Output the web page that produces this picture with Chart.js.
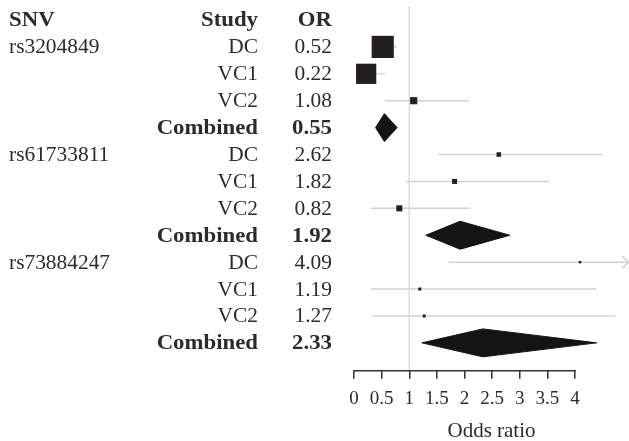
<!DOCTYPE html>
<html>
<head>
<meta charset="utf-8">
<script src="https://cdn.jsdelivr.net/npm/chart.js@4/dist/chart.umd.min.js"></script>
<style>
  html, body { margin: 0; padding: 0; background: #fff; }
  #wrap { width: 629px; height: 441px; position: relative; }
</style>
</head>
<body>
<div id="wrap"><canvas id="chart"></canvas></div>
<script>
// forest plot data
var snvs = ["rs3204849", "rs61733811", "rs73884247"];
var studies = ["DC", "VC1", "VC2"];
var studyOR = [0.52, 0.22, 1.08, 2.62, 1.82, 0.82, 4.09, 1.19, 1.27];
var studyLower = [0.35, 0.08, 0.56, 1.53, 0.94, 0.31, 1.71, 0.31, 0.33];
var studyUpper = [0.78, 0.56, 2.08, 4.50, 3.53, 2.11, 9.80, 4.39, 4.73];
var studyWeight = [48, 40, 5, 2, 2.5, 3.6, 0.6, 0.9, 0.9];
var combinedOR = [0.55, 1.92, 2.33];
var combinedLower = [0.39, 1.30, 1.23];
var combinedUpper = [0.78, 2.82, 4.39];
var tickValues = [0, 0.5, 1, 1.5, 2, 2.5, 3, 3.5, 4];

var FONT = "'Liberation Serif', 'Times New Roman', serif";
var TEXT = "#2b2b2b";
var X_MAX = 4.976;
var Y_MIN = -1.52, Y_MAX = 12.04;

// each SNV block has 3 study rows + 1 combined row
function studyRow(i) {
  return Math.floor(i / 3) * 4 + (i % 3);
}
function combinedRow(g) {
  return g * 4 + 3;
}

var datasets = [];

// squares
datasets.push({
  type: "scatter",
  data: studyOR.map(function(v, i) {
    return { x: v, y: studyRow(i) };
  }),
  pointStyle: "rect",
  pointRadius: studyWeight.map(function(w) {
    return Math.sqrt(w) * 3.2 / 1.414;
  }),
  pointHoverRadius: 0,
  backgroundColor: "#231f20",
  borderWidth: 0,
  clip: false
});

// diamonds
combinedOR.forEach(function(v, g) {
  var r = combinedRow(g);
  datasets.push({
    type: "line",
    data: [
      { x: combinedLower[g], y: r },
      { x: v, y: r - 0.52 },
      { x: combinedUpper[g], y: r },
      { x: v, y: r + 0.52 },
      { x: combinedLower[g], y: r }
    ],
    borderColor: "#141414",
    borderWidth: 1,
    backgroundColor: "#141414",
    fill: "shape",
    pointRadius: 0,
    tension: 0,
    clip: false
  });
});

// confidence interval lines
studyOR.forEach(function(v, i) {
  var r = studyRow(i);
  var hi = Math.min(studyUpper[i], X_MAX);
  datasets.push({
    type: "line",
    data: [{ x: studyLower[i], y: r }, { x: hi, y: r }],
    borderColor: "#d2d2d2",
    borderWidth: 1.5,
    pointRadius: 0,
    clip: false
  });
  if (studyUpper[i] > X_MAX) {
    datasets.push({
      type: "line",
      data: [
        { x: X_MAX - 0.12, y: r - 0.22 },
        { x: X_MAX - 0.01, y: r },
        { x: X_MAX - 0.12, y: r + 0.22 }
      ],
      borderColor: "#c8c8c8",
      borderWidth: 1.2,
      pointRadius: 0,
      clip: false
    });
  }
});

// reference line at OR = 1
datasets.push({
  type: "line",
  data: [{ x: 1, y: Y_MIN }, { x: 1, y: Y_MAX }],
  borderColor: "#dedede",
  borderWidth: 1.5,
  pointRadius: 0,
  clip: false
});

var tablePlugin = {
  id: "table",
  afterDraw: function(chart) {
    var ctx = chart.ctx;
    var y = chart.scales.y;
    var x = chart.scales.x;
    var colSNV = 9, colStudy = 258, colOR = 332;
    ctx.fillStyle = TEXT;

    // the original typeface is a bit wider than Liberation Serif
    function put(text, px, row, align, bold) {
      ctx.save();
      ctx.font = (bold ? "bold " : "") + "20px " + FONT;
      ctx.textAlign = align;
      ctx.textBaseline = "alphabetic";
      ctx.translate(px, y.getPixelForValue(row) + 6.5);
      ctx.scale(bold ? 1.14 : 1.07, 1);
      ctx.fillText(text, 0, 0);
      ctx.restore();
    }

    put("SNV", colSNV, -1, "left", true);
    put("Study", colStudy, -1, "right", true);
    put("OR", colOR, -1, "right", true);

    snvs.forEach(function(s, g) {
      put(s, colSNV, g * 4, "left", false);
      studies.forEach(function(st, k) {
        var i = g * 3 + k;
        put(st, colStudy, studyRow(i), "right", false);
        put(studyOR[i].toFixed(2), colOR, studyRow(i), "right", false);
      });
      put("Combined", colStudy, combinedRow(g), "right", true);
      put(combinedOR[g].toFixed(2), colOR, combinedRow(g), "right", true);
    });

    // axis line from first to last tick
    var bottom = chart.chartArea.bottom;
    ctx.save();
    ctx.strokeStyle = "#333";
    ctx.lineWidth = 1.5;
    ctx.beginPath();
    ctx.moveTo(x.getPixelForValue(tickValues[0]) - 0.75, bottom);
    ctx.lineTo(x.getPixelForValue(tickValues[tickValues.length - 1]) + 0.75, bottom);
    ctx.stroke();
    ctx.restore();
  }
};

new Chart(document.getElementById("chart"), {
  type: "scatter",
  data: { datasets: datasets },
  options: {
    responsive: true,
    maintainAspectRatio: false,
    animation: false,
    events: [],
    layout: {
      autoPadding: false,
      padding: { left: 354, right: 0, top: 6, bottom: 0 }
    },
    plugins: {
      legend: { display: false },
      tooltip: { enabled: false }
    },
    scales: {
      x: {
        type: "linear",
        min: 0,
        max: X_MAX,
        afterBuildTicks: function(scale) {
          scale.ticks = tickValues.map(function(v) {
            return { value: v };
          });
        },
        border: { display: false },
        grid: {
          drawOnChartArea: false,
          drawTicks: true,
          tickLength: 8,
          color: "#333",
          lineWidth: 1.5
        },
        ticks: {
          autoSkip: false,
          maxRotation: 0,
          padding: 9,
          color: TEXT,
          font: { family: FONT, size: 19 },
          callback: function(v) {
            return String(v);
          }
        },
        title: {
          display: true,
          text: "Odds ratio",
          color: TEXT,
          font: { family: FONT, size: 21, lineHeight: 0.95 },
          padding: { top: 1.4, bottom: 0 }
        }
      },
      y: {
        type: "linear",
        display: false,
        reverse: true,
        min: Y_MIN,
        max: Y_MAX
      }
    }
  },
  plugins: [tablePlugin]
});
</script>
</body>
</html>
